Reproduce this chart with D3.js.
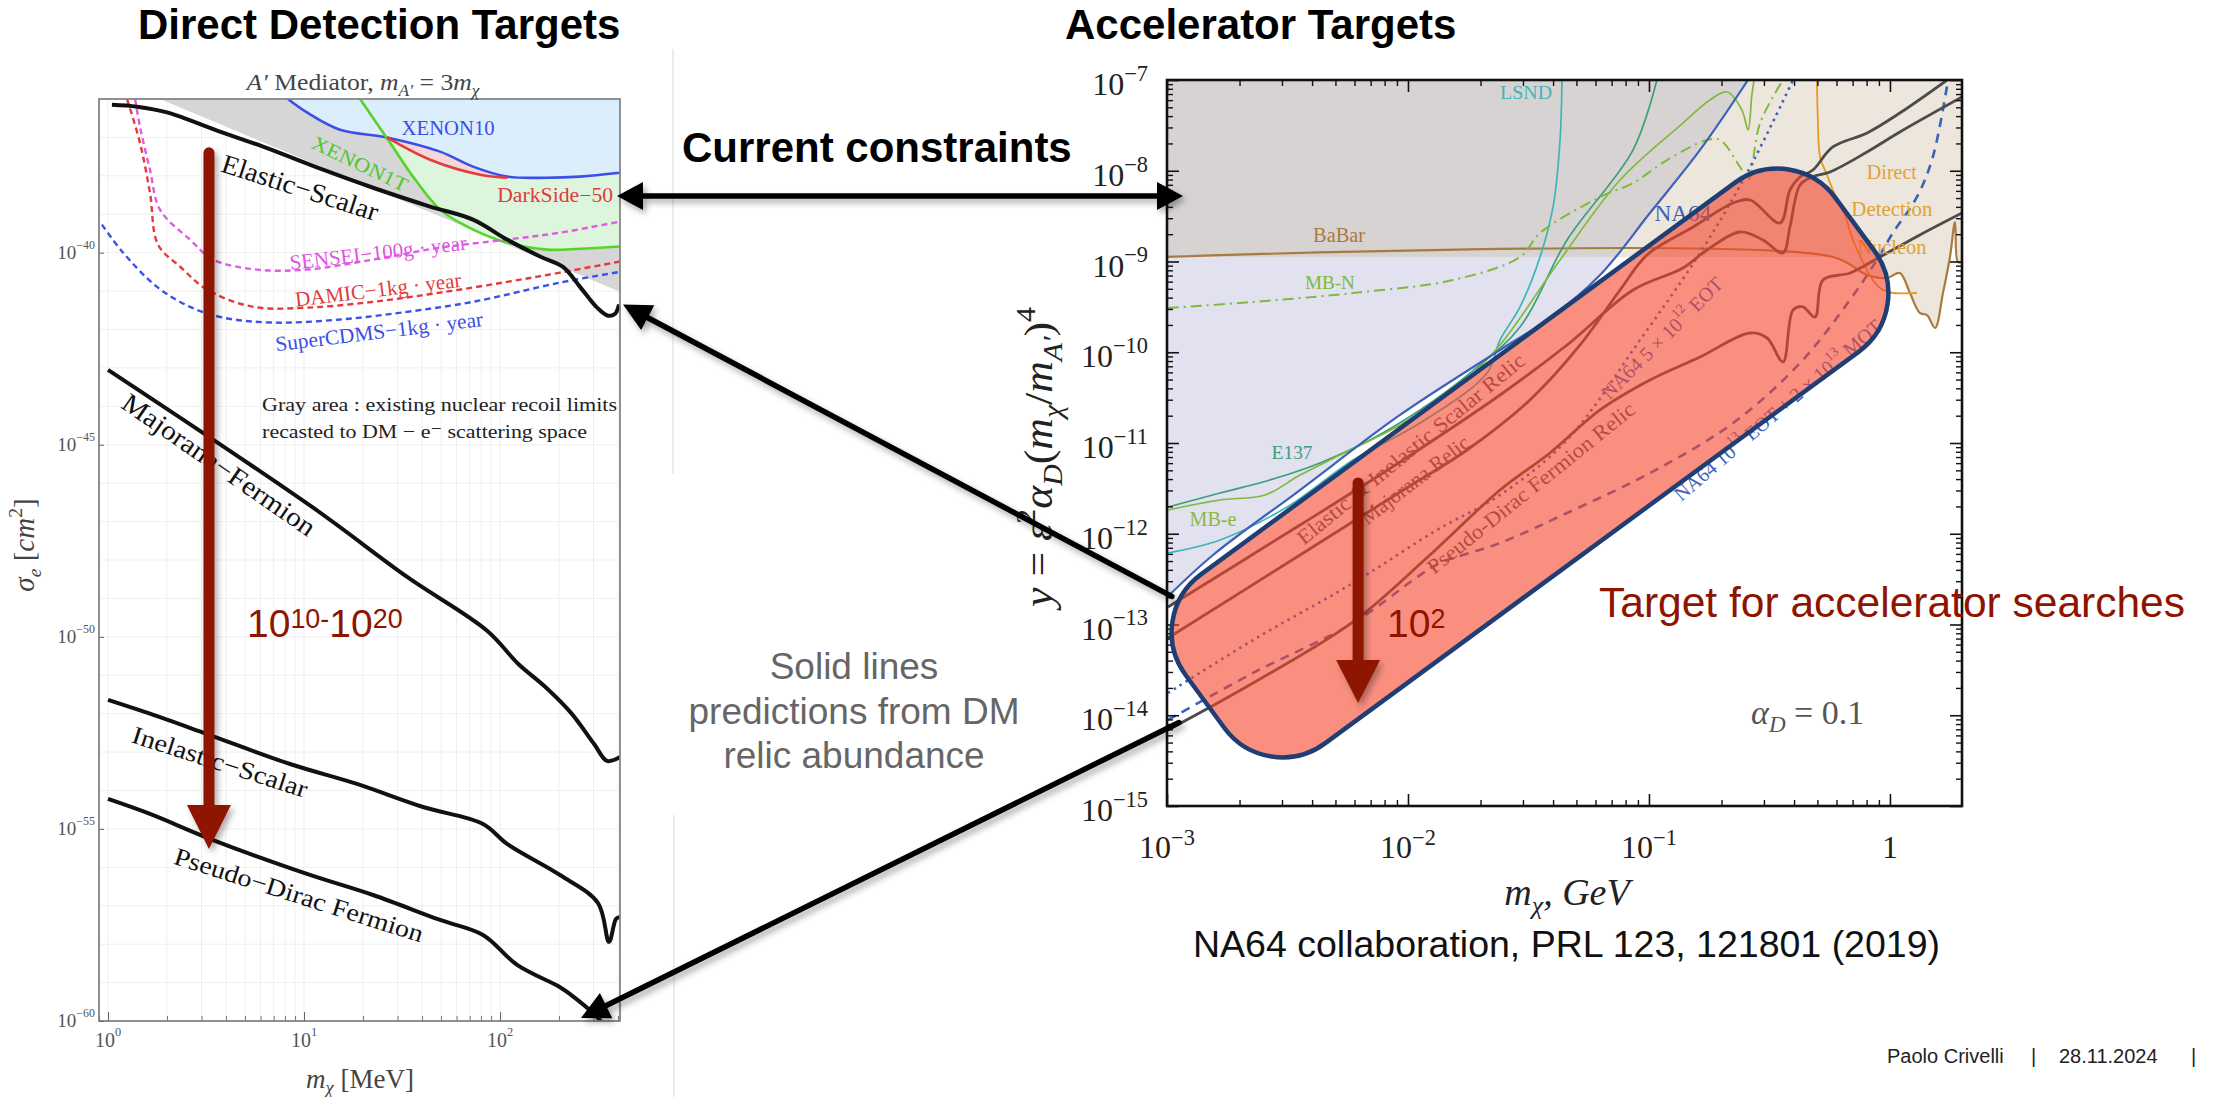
<!DOCTYPE html>
<html>
<head>
<meta charset="utf-8">
<title>Direct detection and accelerator targets</title>
<script src="https://cdn.jsdelivr.net/npm/d3@7"></script>
<style>
html,body{margin:0;padding:0;background:#fff;}
svg{display:block;}
</style>
</head>
<body>
<script>
// ================= Left panel: sigma_e vs m_chi, A' mediator with m_A' = 3 m_chi =================
// every point is [log10(m_chi / MeV), log10(sigma_e / cm^2)]
const elasticScalar = [[0.020,-36.15],[0.148,-36.20],[0.301,-36.35],[0.571,-36.85],[0.791,-37.24],[1.097,-37.84],[1.352,-38.31],[1.643,-38.80],[1.862,-39.14],[2.036,-39.66],[2.204,-40.10],[2.321,-40.37],[2.408,-40.89],[2.495,-41.43],[2.551,-41.64],[2.587,-41.59],[2.607,-41.35]];
const majoranaFermion = [[0.0,-43.05],[1.041,-46.62],[1.526,-48.44],[1.934,-49.84],[2.092,-50.70],[2.230,-51.30],[2.362,-51.98],[2.480,-52.79],[2.546,-53.23],[2.612,-53.13]];
const inelasticScalar = [[0.0,-51.64],[0.214,-52.00],[0.505,-52.53],[0.929,-53.31],[1.270,-53.83],[1.607,-54.43],[1.913,-54.87],[2.036,-55.39],[2.306,-56.20],[2.500,-56.93],[2.556,-57.94],[2.592,-57.34],[2.612,-57.29]];
const pseudoDiracFermion = [[0.0,-54.22],[0.214,-54.61],[0.536,-55.29],[1.015,-56.17],[1.352,-56.72],[1.694,-57.37],[1.913,-57.76],[2.087,-58.54],[2.306,-59.12],[2.362,-59.32],[2.480,-59.82],[2.530,-60.10]];
const xenon10 = [[0.918,-36.0],[1.015,-36.35],[1.184,-36.80],[1.423,-37.0],[1.694,-37.37],[1.862,-37.76],[2.036,-38.02],[2.240,-38.05],[2.408,-38.02],[2.612,-37.92]];
const xenon1T = [[1.286,-36.0],[1.439,-37.14],[1.556,-38.02],[1.694,-38.88],[1.832,-39.32],[2.036,-39.74],[2.240,-39.92],[2.408,-39.90],[2.612,-39.84]];
const darkSide50 = [[1.423,-37.0],[1.643,-37.58],[1.898,-37.97],[2.036,-38.05]];
const sensei100g = [[0.138,-36.0],[0.163,-36.72],[0.214,-37.84],[0.265,-38.88],[0.418,-39.66],[0.536,-40.18],[0.760,-40.44],[1.015,-40.44],[1.352,-40.18],[1.694,-39.87],[2.036,-39.66],[2.306,-39.48],[2.612,-39.19]];
const damic1kg = [[0.097,-36.0],[0.163,-37.14],[0.214,-38.44],[0.255,-39.79],[0.367,-40.36],[0.505,-40.96],[0.740,-41.41],[1.015,-41.43],[1.352,-41.28],[1.694,-41.04],[2.036,-40.76],[2.306,-40.52],[2.612,-40.23]];
const superCDMS1kg = [[-0.031,-39.27],[0.077,-40.0],[0.250,-40.89],[0.418,-41.41],[0.587,-41.69],[0.842,-41.82],[1.184,-41.74],[1.526,-41.54],[1.862,-41.28],[2.306,-40.78],[2.612,-40.50]];
const nuclearRecoilEdge = [[0.265,-36.0],[2.612,-41.02]];
const xTickExpL = [0, 1, 2];
const yTickExpL = [-40, -45, -50, -55, -60];

// ================= Right panel: y vs m_chi (GeV), alpha_D = 0.1 =================
// every point is [log10(m_chi / GeV), log10(y)]
const babarLimit = [[-3,-8.95],[-0.237,-8.95],[-0.095,-9.149],[-0.012,-9.182],[0.041,-9.127],[0.083,-9.347],[0.124,-9.567],[0.154,-9.590],[0.187,-9.733],[0.220,-9.347],[0.249,-8.950],[0.270,-8.565],[0.282,-9.006],[0.299,-9.006]];
const na64Limit = [[-3,-12.70],[-2.809,-12.234],[-2.448,-11.518],[-2.033,-10.691],[-1.618,-9.975],[-1.411,-9.623],[-1.203,-9.149],[-0.996,-8.466],[-0.788,-7.771],[-0.589,-7.0]];
const lsnd = [[-1.361,-7.0],[-1.369,-7.661],[-1.398,-8.399],[-1.452,-8.950],[-1.535,-9.501],[-1.618,-9.865],[-1.672,-10.229],[-1.950,-10.780],[-2.228,-11.187],[-2.502,-11.705],[-2.780,-12.069],[-2.996,-12.212]];
const e137 = [[-2.996,-11.705],[-2.780,-11.551],[-2.573,-11.408],[-2.365,-11.220],[-2.158,-10.967],[-1.950,-10.636],[-1.743,-10.229],[-1.535,-9.722],[-1.340,-8.763],[-1.066,-7.771],[-0.967,-7.0]];
const mbElectron = [[-2.996,-11.738],[-2.780,-11.628],[-2.593,-11.573],[-2.448,-11.353],[-2.282,-11.132],[-2.033,-10.802],[-1.784,-10.361],[-1.618,-9.920],[-1.369,-8.983],[-1.120,-8.102],[-0.859,-7.474],[-0.747,-7.220],[-0.676,-7.132],[-0.614,-7.331],[-0.589,-7.551],[-0.573,-7.165],[-0.564,-7.0]];
const mbNucleon = [[-2.996,-9.512],[-2.643,-9.446],[-2.228,-9.347],[-1.813,-9.204],[-1.535,-8.950],[-1.452,-8.686],[-1.203,-8.289],[-1.066,-8.135],[-0.925,-7.882],[-0.759,-7.661],[-0.705,-7.661],[-0.622,-7.959],[-0.589,-8.102],[-0.539,-7.474],[-0.444,-7.0]];
const directDetection = [[-0.303,-7.0],[-0.299,-7.441],[-0.290,-7.848],[-0.261,-8.047],[-0.237,-8.212],[-0.187,-8.488],[-0.154,-8.763],[-0.112,-9.006],[-0.071,-9.204],[-0.029,-9.314],[0.012,-9.347],[0.112,-9.347]];
const na64Eot5e12 = [[-2.996,-13.755],[-2.643,-13.171],[-2.228,-12.543],[-1.880,-11.959],[-1.618,-11.573],[-1.340,-10.967],[-1.037,-9.865],[-0.788,-8.906],[-0.593,-8.025],[-0.402,-7.0]];
const na64Eot1e13Mot = [[-2.996,-14.052],[-2.643,-13.534],[-2.228,-12.983],[-1.950,-12.455],[-1.867,-12.322],[-1.618,-12.102],[-1.340,-11.771],[-0.996,-11.331],[-0.651,-10.780],[-0.373,-10.118],[-0.166,-9.424],[-0.054,-8.983],[0.012,-8.686],[0.112,-8.289],[0.178,-7.848],[0.241,-7.0]];
const scalarRelic = [[-2.996,-12.807],[-2.448,-11.904],[-2.033,-11.209],[-1.618,-10.471],[-1.340,-9.920],[-1.066,-9.314],[-0.859,-9.072],[-0.759,-8.873],[-0.622,-8.675],[-0.527,-8.763],[-0.444,-8.906],[-0.415,-8.620],[-0.373,-8.157],[-0.324,-8.069],[-0.249,-8.014],[-0.095,-7.793],[0.041,-7.573],[0.299,-7.187]];
const majoranaRelic = [[-2.996,-13.149],[-2.448,-12.234],[-2.033,-11.540],[-1.755,-11.077],[-1.494,-10.526],[-1.286,-9.920],[-1.120,-9.314],[-1.008,-8.928],[-0.817,-8.620],[-0.651,-8.355],[-0.581,-8.322],[-0.456,-8.576],[-0.415,-8.212],[-0.373,-8.069],[-0.320,-7.992],[-0.237,-7.738],[-0.095,-7.584],[0.041,-7.364],[0.237,-7.0]];
const pseudoDiracRelic = [[-2.996,-14.163],[-2.643,-13.645],[-2.228,-12.972],[-1.909,-12.234],[-1.618,-11.518],[-1.411,-11.110],[-1.203,-10.636],[-0.996,-10.306],[-0.788,-10.052],[-0.581,-9.788],[-0.510,-9.843],[-0.444,-10.107],[-0.402,-9.534],[-0.361,-9.501],[-0.311,-9.612],[-0.278,-9.204],[-0.166,-9.127],[-0.041,-8.950],[0.124,-8.708],[0.299,-8.466]];
// corners of the highlighted target band (before rounding)
const targetBand = [[-3.0996,-12.917],[-0.402,-7.661],[0.112,-9.523],[-2.585,-14.780]];
const xTickExpR = [-3, -2, -1, 0];
const yTickExpR = [-15, -14, -13, -12, -11, -10, -9, -8, -7];

// ================= drawing =================
const SANS = "'Liberation Sans', Arial, Helvetica, sans-serif";
const SERIF = "'Liberation Serif', 'Times New Roman', 'DejaVu Serif', serif";
const W = 2214, H = 1097;

const svg = d3.select("body").append("svg").attr("width", W).attr("height", H).attr("viewBox", `0 0 ${W} ${H}`);
const defs = svg.append("defs");
const drop = defs.append("filter").attr("id", "drop").attr("filterUnits", "userSpaceOnUse")
  .attr("x", 0).attr("y", 0).attr("width", W).attr("height", H);
drop.append("feDropShadow").attr("dx", 3).attr("dy", 4).attr("stdDeviation", 3)
  .attr("flood-color", "#000").attr("flood-opacity", 0.33);

// rich text: plain / italic / superscript / subscript runs
function rich(text, parts, fs) {
  let cur = 0;
  parts.forEach(p => {
    const o = typeof p === "string" ? { t: p } : p;
    const off = o.sup ? -(o.up ?? 0.42) * fs : o.sub ? (o.down ?? 0.24) * fs : 0;
    const ts = text.append("tspan").attr("dy", (off - cur).toFixed(2)).text(o.t);
    if (o.sup || o.sub) ts.attr("font-size", ((o.scale ?? 0.68) * fs).toFixed(2));
    if (o.it) ts.attr("font-style", "italic");
    cur = off;
  });
  return text;
}
const isDecade = v => Math.abs(Math.log10(v) - Math.round(Math.log10(v))) < 1e-6;
const minus = e => (e < 0 ? "\u2212" + (-e) : String(e));

// ---------- left panel ----------
const L = { x0: 99, x1: 620, y0: 99, y1: 1021 };
const xL = d3.scaleLog().domain([10 ** -0.046, 10 ** 2.612]).range([L.x0, L.x1]);
const yL = d3.scaleLog().domain([1e-60, 1e-36]).range([L.y1, L.y0]);
const pL = d => [xL(10 ** d[0]), yL(10 ** d[1])];
const lineL = d3.line().x(d => pL(d)[0]).y(d => pL(d)[1]).curve(d3.curveCatmullRom.alpha(0.5));
const polyL = d3.line().x(d => pL(d)[0]).y(d => pL(d)[1]);

defs.append("clipPath").attr("id", "clipL").append("rect")
  .attr("x", L.x0).attr("y", L.y0).attr("width", L.x1 - L.x0).attr("height", L.y1 - L.y0);

const gL = svg.append("g");
const gLc = gL.append("g").attr("clip-path", "url(#clipL)");

gLc.selectAll("line.gx").data(xL.ticks()).join("line").attr("class", "gx")
  .attr("x1", d => xL(d)).attr("x2", d => xL(d)).attr("y1", L.y0).attr("y2", L.y1)
  .attr("stroke", "#efefef").attr("stroke-width", 1);
gLc.selectAll("line.gy").data(d3.range(-60, -35).map(e => 10 ** e)).join("line").attr("class", "gy")
  .attr("x1", L.x0).attr("x2", L.x1).attr("y1", d => yL(d)).attr("y2", d => yL(d))
  .attr("stroke", "#efefef").attr("stroke-width", 1);

// excluded regions
gLc.append("path").attr("d", polyL([nuclearRecoilEdge[0], nuclearRecoilEdge[1], [2.7, -35.5], [0.265, -35.5]]) + "Z")
  .attr("fill", "#d6d6d6");
const fillAbove = (pts, lx0, lx1) => lineL(pts) + "L" + pL([lx1, -35.5]) + "L" + pL([lx0, -35.5]) + "Z";
gLc.append("path").attr("d", fillAbove(xenon1T, xenon1T[0][0], 2.7)).attr("fill", "#ddf5dd");
gLc.append("path").attr("d", fillAbove(darkSide50, darkSide50[0][0], darkSide50[darkSide50.length - 1][0])).attr("fill", "#f6d6d6");
gLc.append("path").attr("d", fillAbove(xenon10, xenon10[0][0], 2.7)).attr("fill", "#dcedfb");

const curvesL = [
  { d: xenon10, c: "#3b4fe6", w: 2.6 },
  { d: xenon1T, c: "#55d42a", w: 2.6 },
  { d: darkSide50, c: "#e23c3c", w: 2.6 },
  { d: sensei100g, c: "#e05ae6", w: 2.4, dash: "6,4" },
  { d: damic1kg, c: "#e6393a", w: 2.4, dash: "6,4" },
  { d: superCDMS1kg, c: "#3a52ea", w: 2.4, dash: "6,4" },
  { d: elasticScalar, c: "#111", w: 4 },
  { d: majoranaFermion, c: "#111", w: 4 },
  { d: inelasticScalar, c: "#111", w: 4 },
  { d: pseudoDiracFermion, c: "#111", w: 4 }
];
curvesL.forEach(s => gLc.append("path").attr("d", lineL(s.d)).attr("fill", "none")
  .attr("stroke", s.c).attr("stroke-width", s.w).attr("stroke-dasharray", s.dash || null)
  .attr("stroke-linejoin", "round"));

const labelsL = [
  { t: "XENON10", at: [1.735, -36.745], rot: 0, len: 93, fs: 20, c: "#3b4fe6" },
  { t: "XENON1T", at: [1.286, -37.682], rot: 25.6, len: 104, fs: 20, c: "#4ec82a" },
  { t: "DarkSide\u221250", at: [2.577, -38.49], rot: 0, len: 116, fs: 20, c: "#e03c3c", anchor: "end" },
  { t: "Elastic\u2212Scalar", at: [0.980, -38.307], rot: 17.9, len: 163, fs: 27, c: "#111" },
  { t: "SENSEI\u2212100g \u00b7 year", at: [1.378, -40.0], rot: -6.5, len: 178, fs: 21, c: "#dd55e0" },
  { t: "DAMIC\u22121kg \u00b7 year", at: [1.378, -40.964], rot: -6.8, len: 167, fs: 21, c: "#e03c3c" },
  { t: "SuperCDMS\u22121kg \u00b7 year", at: [1.383, -42.057], rot: -7, len: 209, fs: 21, c: "#3b4fe6" },
  { t: "Majorana\u2212Fermion", at: [0.566, -45.521], rot: 34.7, len: 229, fs: 27, c: "#111" },
  { t: "Inelastic\u2212Scalar", at: [0.571, -53.255], rot: 17.8, len: 183, fs: 25, c: "#111" },
  { t: "Pseudo\u2212Dirac Fermion", at: [0.974, -56.719], rot: 17.7, len: 260, fs: 25, c: "#111" }
];
labelsL.forEach(l => {
  const [x, y] = pL(l.at);
  gL.append("text").attr("transform", `translate(${x},${y}) rotate(${l.rot})`)
    .attr("text-anchor", l.anchor || "middle").attr("dominant-baseline", "central")
    .attr("font-family", SERIF).attr("font-size", l.fs).attr("fill", l.c)
    .attr("textLength", l.len).attr("lengthAdjust", "spacingAndGlyphs").text(l.t);
});
[
  { t: "Gray area :  existing nuclear recoil limits", at: [0.786, -44.115], len: 355 },
  { t: "recasted to DM \u2212 e\u207b scattering space", at: [0.786, -44.818], len: 325 }
].forEach(l => {
  const [x, y] = pL(l.at);
  gL.append("text").attr("x", x).attr("y", y).attr("font-family", SERIF).attr("font-size", 19)
    .attr("fill", "#222").attr("textLength", l.len).attr("lengthAdjust", "spacingAndGlyphs").text(l.t);
});

// frame and ticks
gL.append("rect").attr("x", L.x0).attr("y", L.y0).attr("width", L.x1 - L.x0).attr("height", L.y1 - L.y0)
  .attr("fill", "none").attr("stroke", "#858585").attr("stroke-width", 1.8);
const tL = xL.ticks();
gL.append("g").attr("transform", `translate(0,${L.y1})`).attr("color", "#666")
  .call(d3.axisBottom(xL).tickValues(tL.filter(isDecade)).tickSize(-9).tickFormat(""))
  .call(g => g.select(".domain").remove());
gL.append("g").attr("transform", `translate(0,${L.y1})`).attr("color", "#777")
  .call(d3.axisBottom(xL).tickValues(tL.filter(v => !isDecade(v))).tickSize(-5).tickFormat(""))
  .call(g => g.select(".domain").remove());
gL.append("g").attr("transform", `translate(${L.x0},0)`).attr("color", "#666")
  .call(d3.axisLeft(yL).tickValues(yTickExpL.map(e => 10 ** e)).tickSize(-5).tickFormat(""))
  .call(g => g.select(".domain").remove());

xTickExpL.forEach(e => {
  rich(gL.append("text").attr("x", xL(10 ** e)).attr("y", 1047).attr("text-anchor", "middle")
    .attr("font-family", SERIF).attr("font-size", 20).attr("fill", "#555"),
    ["10", { t: minus(e), sup: true, up: 0.55, scale: 0.62 }], 20);
});
yTickExpL.forEach(e => {
  rich(gL.append("text").attr("x", 95).attr("y", yL(10 ** e) + 6).attr("text-anchor", "end")
    .attr("font-family", SERIF).attr("font-size", 19).attr("fill", "#555"),
    ["10", { t: minus(e), sup: true, up: 0.53, scale: 0.63 }], 19);
});
rich(gL.append("text").attr("x", 360).attr("y", 1088).attr("text-anchor", "middle")
  .attr("font-family", SERIF).attr("font-size", 27).attr("fill", "#444"),
  [{ t: "m", it: true }, { t: "\u03c7", sub: true, it: true }, "  [MeV]"], 27);
rich(gL.append("text").attr("transform", "translate(34,545) rotate(-90)").attr("text-anchor", "middle")
  .attr("font-family", SERIF).attr("font-size", 29).attr("fill", "#444"),
  [{ t: "\u03c3", it: true }, { t: "e", sub: true, it: true }, " [", { t: "cm", it: true }, { t: "2", sup: true }, "]"], 29);
rich(gL.append("text").attr("x", 363).attr("y", 90).attr("text-anchor", "middle")
  .attr("font-family", SERIF).attr("font-size", 24).attr("fill", "#444")
  .attr("textLength", 233).attr("lengthAdjust", "spacingAndGlyphs"),
  [{ t: "A\u2032", it: true }, "  Mediator,  ", { t: "m", it: true }, { t: "A\u2032", sub: true, it: true },
   " = 3", { t: "m", it: true }, { t: "\u03c7", sub: true, it: true }], 24);

// ---------- right panel ----------
const R = { x0: 1167, x1: 1962, y0: 80, y1: 806 };
const xR = d3.scaleLog().domain([1e-3, 10 ** 0.299]).range([R.x0, R.x1]);
const yR = d3.scaleLog().domain([1e-15, 1e-7]).range([R.y1, R.y0]);
const pR = d => [xR(10 ** d[0]), yR(10 ** d[1])];
const lineR = d3.line().x(d => pR(d)[0]).y(d => pR(d)[1]).curve(d3.curveCatmullRom.alpha(0.5));
const polyR = d3.line().x(d => pR(d)[0]).y(d => pR(d)[1]);

defs.append("clipPath").attr("id", "clipR").append("rect")
  .attr("x", R.x0).attr("y", R.y0).attr("width", R.x1 - R.x0).attr("height", R.y1 - R.y0);
const gR = svg.append("g");
const gRc = gR.append("g").attr("clip-path", "url(#clipR)");

// crossing of the NA64 limit with the BaBar level
const babarLevel = babarLimit[0][1];
const iCross = na64Limit.findIndex(d => d[1] > babarLevel);
const a = na64Limit[iCross - 1], b = na64Limit[iCross];
const crossX = a[0] + (babarLevel - a[1]) / (b[1] - a[1]) * (b[0] - a[0]);
const na64Above = na64Limit.slice(iCross), na64Below = na64Limit.slice(0, iCross);

const grayRegion = [[-3.1, babarLevel], [-3.1, -6.9], [na64Above[na64Above.length - 1][0], -6.9],
  ...na64Above.slice().reverse(), [crossX, babarLevel]];
const lavenderRegion = [[-3.1, babarLevel], [crossX, babarLevel], ...na64Below.slice().reverse(), [-3.1, na64Below[0][1]]];
const beigeRegion = [[na64Above[na64Above.length - 1][0], -6.9], [0.35, -6.9], [0.35, babarLimit[babarLimit.length - 1][1]],
  ...babarLimit.slice(1).reverse(), [crossX, babarLevel], ...na64Above];
gRc.append("path").attr("d", polyR(grayRegion) + "Z").attr("fill", "#d8d3d3");
gRc.append("path").attr("d", polyR(lavenderRegion) + "Z").attr("fill", "#e1e1f0");
gRc.append("path").attr("d", polyR(beigeRegion) + "Z").attr("fill", "#ece6dc");

const curvesR = [
  { d: babarLimit, c: "#a97b3e", w: 2.2 },
  { d: directDetection, c: "#e69a22", w: 1.8 },
  { d: lsnd, c: "#3db5b8", w: 1.7 },
  { d: e137, c: "#3c9f7a", w: 1.7 },
  { d: mbElectron, c: "#80ba3c", w: 1.7 },
  { d: mbNucleon, c: "#80ba3c", w: 2, dash: "11,5,2,5" },
  { d: na64Limit, c: "#3d62b8", w: 2.2 },
  { d: na64Eot5e12, c: "#3d62b8", w: 2.6, dash: "2.5,4.5" },
  { d: na64Eot1e13Mot, c: "#3d62b8", w: 2.6, dash: "9,7" },
  { d: scalarRelic, c: "#4c4c4c", w: 2.8 },
  { d: majoranaRelic, c: "#4c4c4c", w: 2.8 },
  { d: pseudoDiracRelic, c: "#4c4c4c", w: 2.8 }
];
curvesR.forEach(s => gRc.append("path").attr("d", lineR(s.d)).attr("fill", "none")
  .attr("stroke", s.c).attr("stroke-width", s.w).attr("stroke-dasharray", s.dash || null)
  .attr("stroke-linejoin", "round"));

const labelsR = [
  { t: "LSND", at: [-1.510, -7.143], fs: 19, len: 52, c: "#3db5b8" },
  { t: "BaBar", at: [-2.286, -8.708], fs: 20, len: 52, c: "#a97b3e" },
  { t: "MB-N", at: [-2.324, -9.226], fs: 19, len: 50, c: "#7cb83c" },
  { t: "E137", at: [-2.481, -11.110], fs: 19, len: 41, c: "#3c9f7a" },
  { t: "MB-e", at: [-2.809, -11.837], fs: 20, len: 47, c: "#8cba3c" },
  { t: "NA64", at: [-0.859, -8.466], fs: 23, len: 57, c: "#3d62b8" },
  { t: "Direct", at: [0.008, -8.014], fs: 20, len: 50, c: "#e2a231" },
  { t: "Detection", at: [0.008, -8.421], fs: 21, len: 81, c: "#e2a231" },
  { t: "Nucleon", at: [0.008, -8.840], fs: 20, len: 69, c: "#e2a231" },
  { t: "Elastic & Inelastic Scalar Relic", at: [-1.988, -11.066], rot: -39.4, fs: 21, len: 288, c: "#555" },
  { t: "Majorana Relic", at: [-1.971, -11.408], rot: -37.6, fs: 21, len: 131, c: "#555" },
  { t: "Pseudo-Dirac Fermion Relic", at: [-1.490, -11.496], rot: -38.8, fs: 21, len: 260, c: "#555" }
];
labelsR.forEach(l => {
  const [x, y] = pR(l.at);
  gR.append("text").attr("transform", `translate(${x},${y}) rotate(${l.rot || 0})`)
    .attr("text-anchor", "middle").attr("dominant-baseline", "central")
    .attr("font-family", SERIF).attr("font-size", l.fs).attr("fill", l.c)
    .attr("textLength", l.len).attr("lengthAdjust", "spacingAndGlyphs").text(l.t);
});
[
  { at: [-0.946, -9.843], rot: -45, parts: ["NA64 5 \u00d7 10", { t: "12", sup: true }, " EOT"] },
  { at: [-0.465, -10.636], rot: -40.6, parts: ["NA64 10", { t: "13", sup: true }, " EOT + 2 \u00d7 10", { t: "13", sup: true }, " MOT"] }
].forEach(l => {
  const [x, y] = pR(l.at);
  rich(gR.append("text").attr("transform", `translate(${x},${y}) rotate(${l.rot})`)
    .attr("text-anchor", "middle").attr("dominant-baseline", "central")
    .attr("font-family", SERIF).attr("font-size", 20).attr("fill", "#3d62b8"), l.parts, 20);
});

// frame and ticks
gR.append("rect").attr("x", R.x0).attr("y", R.y0).attr("width", R.x1 - R.x0).attr("height", R.y1 - R.y0)
  .attr("fill", "none").attr("stroke", "#111").attr("stroke-width", 2.6);
const xtR = xR.ticks(), ytR = yR.ticks();
const axisPairs = [
  [d3.axisBottom(xR), `translate(0,${R.y1})`, xtR],
  [d3.axisTop(xR), `translate(0,${R.y0})`, xtR],
  [d3.axisLeft(yR), `translate(${R.x0},0)`, ytR],
  [d3.axisRight(yR), `translate(${R.x1},0)`, ytR]
];
axisPairs.forEach(([ax, tr, vals]) => {
  gR.append("g").attr("transform", tr).attr("color", "#111").attr("stroke-width", 1.6)
    .call(ax.tickValues(vals.filter(isDecade)).tickSize(-12).tickFormat(""))
    .call(g => g.select(".domain").remove());
  gR.append("g").attr("transform", tr).attr("color", "#111").attr("stroke-width", 1.4)
    .call(ax.tickValues(vals.filter(v => !isDecade(v))).tickSize(-6).tickFormat(""))
    .call(g => g.select(".domain").remove());
});

// highlighted target band drawn over the constraints
function roundedPoly(pts, r) {
  const n = pts.length;
  const unit = (p, q) => { const dx = p[0] - q[0], dy = p[1] - q[1], m = Math.hypot(dx, dy); return [dx / m, dy / m]; };
  let d = "";
  for (let i = 0; i < n; i++) {
    const p = pts[i], pa = pts[(i - 1 + n) % n], pb = pts[(i + 1) % n];
    const ua = unit(pa, p), ub = unit(pb, p);
    const s = [p[0] + ua[0] * r, p[1] + ua[1] * r], e = [p[0] + ub[0] * r, p[1] + ub[1] * r];
    d += (i === 0 ? "M" : "L") + s[0].toFixed(1) + "," + s[1].toFixed(1) +
      "A" + r + "," + r + " 0 0 1 " + e[0].toFixed(1) + "," + e[1].toFixed(1);
  }
  return d + "Z";
}
svg.append("path").attr("d", roundedPoly(targetBand.map(pR), 72))
  .attr("fill", "rgb(247,68,43)").attr("fill-opacity", 0.6)
  .attr("stroke", "#1e3e74").attr("stroke-width", 4.5).attr("stroke-linejoin", "round");

rich(svg.append("text").attr("x", pR([-0.315, -13.964])[0] - 63).attr("y", pR([-0.315, -13.964])[1] + 12)
  .attr("font-family", SERIF).attr("font-size", 34).attr("fill", "#555"),
  [{ t: "\u03b1", it: true }, { t: "D", sub: true, it: true }, " = 0.1"], 34);

xTickExpR.forEach(e => {
  const t = gR.append("text").attr("x", xR(10 ** e)).attr("y", 858).attr("text-anchor", "middle")
    .attr("font-family", SERIF).attr("font-size", 32).attr("fill", "#222");
  if (e === 0) t.text("1");
  else rich(t, ["10", { t: minus(e), sup: true, up: 0.42, scale: 0.7 }], 32);
});
yTickExpR.forEach(e => {
  rich(gR.append("text").attr("x", 1148).attr("y", yR(10 ** e) + 15).attr("text-anchor", "end")
    .attr("font-family", SERIF).attr("font-size", 32).attr("fill", "#222"),
    ["10", { t: minus(e), sup: true, up: 0.44, scale: 0.7 }], 32);
});
rich(gR.append("text").attr("x", 1567).attr("y", 905).attr("text-anchor", "middle")
  .attr("font-family", SERIF).attr("font-size", 38).attr("fill", "#222"),
  [{ t: "m", it: true }, { t: "\u03c7", sub: true, it: true }, { t: ", GeV", it: true }], 38);
rich(gR.append("text").attr("transform", "translate(1052,457) rotate(-90)").attr("text-anchor", "middle")
  .attr("font-family", SERIF).attr("font-size", 40).attr("fill", "#222")
  .attr("textLength", 300).attr("lengthAdjust", "spacingAndGlyphs"),
  [{ t: "y", it: true }, " = ", { t: "\u03b5", it: true }, { t: "2", sup: true }, { t: "\u03b1", it: true },
   { t: "D", sub: true, it: true }, "(", { t: "m", it: true }, { t: "\u03c7", sub: true, it: true }, "/",
   { t: "m", it: true }, { t: "A\u2032", sub: true, it: true }, ")", { t: "4", sup: true }], 40);

// ---------- slide annotations ----------
svg.append("line").attr("x1", 673).attr("x2", 673).attr("y1", 49).attr("y2", 474).attr("stroke", "#e6e6e6").attr("stroke-width", 1.5);
svg.append("line").attr("x1", 674).attr("x2", 674).attr("y1", 815).attr("y2", H).attr("stroke", "#e6e6e6").attr("stroke-width", 1.5);

svg.append("text").attr("x", 138).attr("y", 39).attr("font-family", SANS).attr("font-weight", "bold")
  .attr("font-size", 42).attr("fill", "#000").text("Direct Detection Targets");
svg.append("text").attr("x", 1065).attr("y", 39).attr("font-family", SANS).attr("font-weight", "bold")
  .attr("font-size", 42).attr("fill", "#000").text("Accelerator Targets");
svg.append("text").attr("x", 682).attr("y", 162).attr("font-family", SANS).attr("font-weight", "bold")
  .attr("font-size", 42).attr("fill", "#000").text("Current constraints");

["Solid lines", "predictions from DM", "relic abundance"].forEach((t, i) => {
  svg.append("text").attr("x", 854).attr("y", [679, 724, 768][i]).attr("text-anchor", "middle")
    .attr("font-family", SANS).attr("font-size", 37).attr("fill", "#666").text(t);
});

function arrow(g, x1, y1, x2, y2, w, len, hw, color, bothEnds) {
  const dx = x2 - x1, dy = y2 - y1, m = Math.hypot(dx, dy), ux = dx / m, uy = dy / m;
  const head = (tx, ty, sx, sy) => {
    const bx = tx - sx * len, by = ty - sy * len;
    g.append("path").attr("d", `M${tx},${ty}L${bx - sy * hw},${by + sx * hw}L${bx + sy * hw},${by - sx * hw}Z`).attr("fill", color);
  };
  const sx0 = bothEnds ? x1 + ux * (len - 2) : x1, sy0 = bothEnds ? y1 + uy * (len - 2) : y1;
  g.append("line").attr("x1", sx0).attr("y1", sy0).attr("x2", x2 - ux * (len - 2)).attr("y2", y2 - uy * (len - 2))
    .attr("stroke", color).attr("stroke-width", w).attr("stroke-linecap", bothEnds ? "butt" : "round");
  head(x2, y2, ux, uy);
  if (bothEnds) head(x1, y1, -ux, -uy);
}
const gA = svg.append("g").attr("filter", "url(#drop)");
arrow(gA, L.x1 - 3, 196, R.x0 + 16, 196, 5.5, 26, 14, "#000", true);
arrow(gA, xR(10 ** -2.98), yR(10 ** -12.69), xL(10 ** 2.612) + 3, yL(10 ** -41.35), 5.5, 28, 14, "#000");
arrow(gA, xR(10 ** -2.95), yR(10 ** -14.08), xL(10 ** 2.413), yL(1e-60) - 3, 5.5, 28, 14, "#000");

// red factor arrows
const gRed = svg.append("g").attr("filter", "url(#drop)");
arrow(gRed, xL(10 ** 0.515), yL(10 ** -37.4), xL(10 ** 0.515), yL(10 ** -55.52), 11, 44, 22, "#8e1400");
arrow(gRed, xR(10 ** -2.207), yR(10 ** -11.44), xR(10 ** -2.207), yR(10 ** -13.865), 11, 43, 22, "#8e1400");

rich(svg.append("text").attr("x", 247).attr("y", 637).attr("font-family", SANS).attr("font-size", 39).attr("fill", "#8e1400"),
  ["10", { t: "10-", sup: true, up: 0.24, scale: 0.69 }, "10", { t: "20", sup: true, up: 0.24, scale: 0.69 }], 39);
rich(svg.append("text").attr("x", 1387).attr("y", 637).attr("font-family", SANS).attr("font-size", 39).attr("fill", "#8e1400"),
  ["10", { t: "2", sup: true, up: 0.24, scale: 0.69 }], 39);

svg.append("text").attr("x", 1599).attr("y", 617).attr("font-family", SANS).attr("font-size", 42)
  .attr("fill", "#8e1400").attr("textLength", 586).attr("lengthAdjust", "spacingAndGlyphs").text("Target for accelerator searches");
svg.append("text").attr("x", 1193).attr("y", 957).attr("font-family", SANS).attr("font-size", 37.5)
  .attr("fill", "#111").text("NA64 collaboration, PRL 123, 121801 (2019)");

const foot = [["Paolo Crivelli", 1887], ["|", 2031], ["28.11.2024", 2059], ["|", 2191]];
foot.forEach(([t, x]) => svg.append("text").attr("x", x).attr("y", 1063).attr("font-family", SANS)
  .attr("font-size", 20).attr("fill", "#222").text(t));
</script>
</body>
</html>
